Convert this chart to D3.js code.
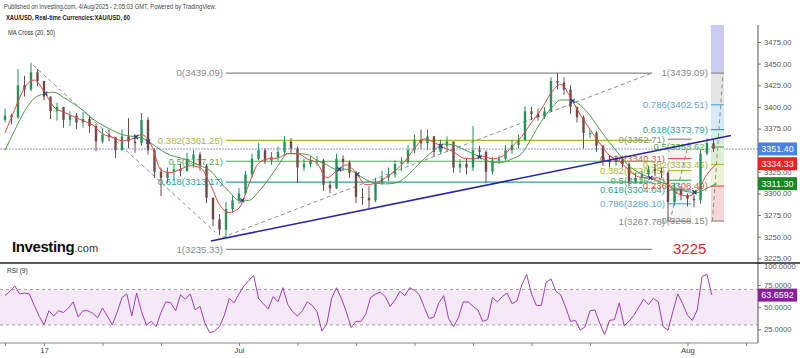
<!DOCTYPE html>
<html><head><meta charset="utf-8">
<script src="https://cdn.jsdelivr.net/npm/d3@7/dist/d3.min.js"></script>
<style>body{margin:0;background:#fff}svg{display:block;font-family:"Liberation Sans",Arial,sans-serif}</style>
</head><body><svg id="c" width="800" height="358"></svg>
<script>
// ---- data (candles: 3 per trading day, starting Fri 13 Jun) ----
const firstOpen = 3385;
const closes = [3390,3388,3425,3420,3440,3430,3412,3395,3400,3385,3390,3382,3386,3378,3360,3368,3365,3350,3366,3360,3358,3385,3350,3325,3318,3325,3328,3326,3340,3345,3332,3295,3270,3258,3282,3292,3300,3322,3340,3350,3338,3342,3348,3360,3352,3330,3334,3338,3338,3310,3306,3340,3336,3324,3296,3295,3292,3312,3318,3322,3334,3336,3350,3362,3358,3366,3348,3355,3360,3330,3334,3330,3350,3348,3325,3338,3340,3350,3356,3362,3395,3392,3388,3395,3430,3428,3420,3400,3388,3370,3370,3355,3338,3336,3340,3334,3314,3318,3322,3328,3326,3324,3290,3305,3298,3294,3292,3346,3358,3351.40];
const highs = [3398,3392,3444,3436,3451,3444,3430,3412,3405,3400,3395,3393,3394,3390,3380,3375,3374,3365,3374,3387,3368,3393,3388,3352,3330,3330,3334,3334,3347,3350,3348,3334,3295,3276,3290,3298,3306,3326,3346,3358,3352,3348,3354,3366,3364,3354,3340,3343,3343,3340,3314,3346,3344,3338,3326,3306,3308,3318,3326,3330,3338,3342,3356,3368,3374,3374,3366,3362,3366,3360,3340,3340,3378,3355,3350,3342,3344,3356,3362,3368,3401,3400,3398,3400,3434,3439,3434,3425,3400,3390,3374,3372,3356,3344,3344,3342,3336,3324,3326,3332,3334,3330,3326,3312,3308,3300,3298,3350,3364,3362];
const lows = [3382,3380,3386,3412,3418,3424,3408,3386,3384,3376,3378,3374,3376,3370,3349,3358,3360,3341,3350,3352,3347,3355,3345,3318,3297,3312,3315,3320,3325,3330,3326,3289,3262,3252,3248,3278,3288,3298,3318,3338,3334,3333,3338,3344,3346,3312,3326,3330,3332,3303,3300,3305,3326,3318,3289,3287,3283,3290,3310,3314,3318,3326,3334,3346,3352,3350,3343,3346,3348,3324,3324,3322,3326,3343,3312,3322,3334,3338,3346,3352,3360,3385,3384,3386,3394,3420,3414,3392,3382,3352,3364,3348,3332,3330,3332,3330,3308,3312,3313,3320,3320,3318,3268,3286,3292,3285,3284,3288,3344,3348];
// moving averages, 2 samples per day
const ma20 = [3370,3397,3422,3431,3418,3400,3394,3389,3384,3379,3369,3365,3361,3363,3368,3356,3327,3324,3328,3332,3330,3312,3287,3278,3283,3310,3335,3340,3341,3346,3346,3340,3335,3318,3326,3333,3324,3310,3312,3318,3326,3337,3352,3363,3359,3353,3348,3341,3340,3343,3340,3343,3354,3366,3382,3397,3416,3426,3411,3391,3374,3358,3344,3337,3327,3319,3318,3318,3310,3300,3297,3303,3322,3334.33];
const ma50 = [3350,3373,3395,3410,3415,3417,3411,3404,3396,3386,3379,3373,3368,3366,3364,3358,3350,3344,3341,3337,3332,3327,3314,3302,3292,3292,3302,3316,3332,3346,3346,3345,3338,3333,3328,3328,3323,3316,3312,3311,3312,3318,3329,3340,3350,3357,3356,3351,3346,3340,3336,3336,3340,3346,3364,3383,3398,3408,3408,3402,3390,3374,3359,3345,3332,3324,3319,3314,3310,3305,3302,3301,3306,3311.30];
// RSI(9), 4 samples per day
const rsi = [63,68,74,65,66,65,52,40,30,46,40,46,44,49,56,39,46,46,43,38,49,40,30,44,61,65,40,66,45,30,34,28,44,56,55,46,64,59,65,47,51,32,21,23,28,41,60,55,65,74,80,86,60,54,48,62,56,72,53,45,40,46,56,52,45,23,31,60,72,60,45,27,34,34,42,61,65,67,62,51,58,68,63,72,69,64,50,37,39,55,63,37,28,38,56,56,51,47,34,36,61,56,62,66,54,57,75,87,65,52,52,78,82,68,64,50,34,35,24,28,46,47,32,19,35,36,55,29,34,41,50,59,53,60,56,28,24,45,65,54,41,35,47,85,87,63.6592];
const lastPrice = 3351.40;
const priceTicks = [3475,3450,3425,3400,3375,3325,3300,3275,3250,3225];
const rsiTicks = [100,75,50,25];
const xTickDays = [0,2,5,8,12,15,18,21,24,27,30,35,38];
const xTickLabels = {2:"17",12:"Jul",35:"Aug"};
// drawings: fib retracements [startDay, endDay, price at 0, price at 1, levels]
const fibMain = {d0:11.33, d1:33.18, p0:3439.09, p1:3235.33, levels:[0,0.382,0.5,0.618,1]};
const fibA = {d0:36.2, d1:36.87, p0:3268.15, p1:3439.09, levels:[0,0.236,0.382,0.5,0.618,0.786,1,1.618]};
const fibB = {d0:34.0, d1:35.2, p0:3362.71, p1:3267.78, levels:[0,0.236,0.382,0.5,0.618,0.786,1]};
const trendLine = [[10.56,3245],[37.23,3367]];
const dashLines = [[[1.44,3448.4],[10.77,3255.4]], [[11.13,3249],[33.18,3439.09]], [[36.28,3268.15],[36.82,3439.09]], [[34.1,3267.78],[35.1,3362.71]]];

const levelColor = {0:"#8a8a8a",0.236:"#e05a4f",0.382:"#a9b93a",0.5:"#4caf50",0.618:"#26a69a",0.786:"#5aaad6",1:"#8a8a8a",1.618:"#6f74d8"};
const bandColor = {0:"#f6d6d6",0.236:"#eef2d6",0.382:"#dcefd6",0.5:"#d6f0e6",0.618:"#d6ebf7",0.786:"#e4e4e4",1:"#c9cbf2"};

const svg = d3.select("#c");
const X = d3.scaleLinear().domain([0,36]).range([5,707]);
const Y = d3.scaleLinear().domain([3250,3475]).range([236.7,42.0]);
const YR = d3.scaleLinear().domain([25,100]).range([329.3,263]);
const AX = 758;

svg.append("defs").html('<clipPath id="mp"><rect x="0" y="25" width="758" height="238"/></clipPath><clipPath id="rp"><rect x="0" y="263" width="758" height="80"/></clipPath>');

// header
svg.append("text").attr("x",4).attr("y",9).attr("font-size",6.5).attr("fill","#444").attr("textLength",212).attr("lengthAdjust","spacingAndGlyphs").text("Published on Investing.com, 4/Aug/2025 - 2:05:03 GMT, Powered by TradingView.");
svg.append("text").attr("x",6).attr("y",20).attr("font-size",6.8).attr("font-weight","bold").attr("fill","#222").attr("textLength",124).attr("lengthAdjust","spacingAndGlyphs").text("XAU/USD, Real-time Currencies:XAU/USD, 60");
svg.append("text").attr("x",8).attr("y",35).attr("font-size",6.5).attr("fill","#333").attr("textLength",47).attr("lengthAdjust","spacingAndGlyphs").text("MA Cross (20, 50)");

const main = svg.append("g").attr("clip-path","url(#mp)");

// current price line
main.append("line").attr("x1",0).attr("x2",AX).attr("y1",Y(lastPrice)).attr("y2",Y(lastPrice)).attr("stroke","#8f9bd0").attr("stroke-width",1).attr("stroke-dasharray","2,1");

// fib drawing helper
function drawFib(f, opt){
  const g = main.append("g");
  const lp = l => f.p0 + l*(f.p1-f.p0);
  if(opt.bands){
    const ls = f.levels.slice().sort((a,b)=>a-b);
    for(let i=0;i<ls.length-1;i++){
      const a=lp(ls[i]), b=lp(ls[i+1]);
      g.append("rect").attr("x",X(f.d0)).attr("width",X(f.d1)-X(f.d0))
        .attr("y",Math.min(Y(a),Y(b))).attr("height",Math.abs(Y(a)-Y(b)))
        .attr("fill",bandColor[ls[i]]).attr("opacity",opt.bandOpacity);
    }
  }
  f.levels.forEach(l=>{
    const p = lp(l);
    g.append("line").attr("x1",X(f.d0)).attr("x2",X(f.d1)).attr("y1",Y(p)).attr("y2",Y(p))
      .attr("stroke",levelColor[l]).attr("stroke-width",1.2);
    if(Y(p)>30) g.append("text").attr("x",X(f.d0)-3).attr("y",Y(p)).attr("dy","0.35em")
      .attr("text-anchor","end").attr("font-size",9.6).attr("fill",levelColor[l])
      .text(`${l}(${p.toFixed(2)})`);
  });
}
drawFib(fibMain,{bands:false});
drawFib(fibB,{bands:true,bandOpacity:0.35});
drawFib(fibA,{bands:true,bandOpacity:1});

// dashed diagonals
const lineGen = d3.line().x(d=>X(d[0])).y(d=>Y(d[1]));
dashLines.forEach(dl=>main.append("path").attr("d",lineGen(dl)).attr("fill","none").attr("stroke","#8e8e8e").attr("stroke-width",1).attr("stroke-dasharray","4,3"));

// candles
const candles = closes.map((c,i)=>({d:i/3,o:i?closes[i-1]:firstOpen,c,h:highs[i],l:lows[i]}));
const cg = main.append("g");
candles.forEach(k=>{
  const col = k.c>=k.o ? "#24935a" : "#6e4a46";
  cg.append("line").attr("x1",X(k.d)).attr("x2",X(k.d)).attr("y1",Y(Math.max(k.h,k.o,k.c))).attr("y2",Y(Math.min(k.l,k.o,k.c))).attr("stroke",col).attr("stroke-width",1);
  const top = Y(Math.max(k.o,k.c)), bot = Y(Math.min(k.o,k.c));
  cg.append("rect").attr("x",X(k.d)-1.2).attr("width",2.4).attr("y",top).attr("height",Math.max(1,bot-top)).attr("fill",col);
});

// MAs
const maLine = d3.line().x((d,i)=>X(i/2)).y(d=>Y(d)).curve(d3.curveMonotoneX);
main.append("path").attr("d",maLine(ma50)).attr("fill","none").attr("stroke","#4f9a45").attr("stroke-width",1);
main.append("path").attr("d",maLine(ma20)).attr("fill","none").attr("stroke","#e4453d").attr("stroke-width",1);
// crossing markers
for(let i=1;i<ma20.length;i++){
  const a=ma20[i-1]-ma50[i-1], b=ma20[i]-ma50[i];
  if(a*b<0){
    const t=a/(a-b), d=(i-1+t)/2, v=ma20[i-1]+t*(ma20[i]-ma20[i-1]);
    const cx=X(d), cy=Y(v);
    main.append("path").attr("d",`M${cx-2},${cy-2}L${cx+2},${cy+2}M${cx-2},${cy+2}L${cx+2},${cy-2}`).attr("stroke","#2b3a8c").attr("stroke-width",1.3);
  }
}

// trend line
main.append("path").attr("d",lineGen(trendLine)).attr("stroke","#2626a6").attr("stroke-width",1.6).attr("fill","none");

// logo and 3225 text
const logo = svg.append("text").attr("x",12).attr("y",252).attr("fill","#111");
logo.append("tspan").attr("font-size",15).attr("font-weight","bold").attr("letter-spacing",-0.4).text("Investing");
logo.append("tspan").attr("font-size",11).attr("fill","#333").text(".com");
svg.append("text").attr("x",673).attr("y",254).attr("font-size",15).attr("fill","#e3242b").text("3225");

// price axis
const pa = svg.append("g").attr("transform",`translate(${AX},0)`).call(d3.axisRight(Y).tickValues(priceTicks).tickFormat(d3.format(".2f")).tickSize(3));
pa.select(".domain").remove();
pa.selectAll("text").attr("font-size",7.6).attr("fill","#555").attr("font-family","Liberation Sans, Arial");
pa.selectAll("line").attr("stroke","#777");

// RSI pane
const rp = svg.append("g").attr("clip-path","url(#rp)");
rp.append("rect").attr("x",0).attr("width",AX).attr("y",YR(70)).attr("height",YR(30)-YR(70)).attr("fill","#9c27b0").attr("opacity",0.1);
[70,30].forEach(v=>rp.append("line").attr("x1",0).attr("x2",AX).attr("y1",YR(v)).attr("y2",YR(v)).attr("stroke","#a0a0a0").attr("stroke-dasharray","3,3"));
rp.append("path").attr("d",d3.line().x((d,i)=>X(i/4)).y(d=>YR(d))(rsi)).attr("fill","none").attr("stroke","#a43db5").attr("stroke-width",1);
svg.append("text").attr("x",7).attr("y",273).attr("font-size",6.5).attr("fill","#333").text("RSI (9)");
const ra = svg.append("g").attr("transform",`translate(${AX},0)`).call(d3.axisRight(YR).tickValues(rsiTicks).tickFormat(d3.format(".4f")).tickSize(3));
ra.select(".domain").remove();
ra.selectAll("text").attr("font-size",7.6).attr("fill","#555");
ra.selectAll("line").attr("stroke","#777");
ra.selectAll(".tick").filter(d=>d===100).select("text").attr("dy","0.7em");

// frame lines
svg.append("line").attr("x1",AX).attr("x2",AX).attr("y1",25).attr("y2",343).attr("stroke","#555").attr("stroke-width",1);
svg.append("line").attr("x1",0).attr("x2",800).attr("y1",263).attr("y2",263).attr("stroke","#222").attr("stroke-width",1.5);
// x axis
const xa = svg.append("g").attr("transform","translate(0,343)").call(d3.axisBottom(X).tickValues(xTickDays).tickSize(3).tickFormat(d=>xTickLabels[d]||""));
xa.select(".domain").attr("d",`M0,0H${AX}`).attr("stroke","#888");
xa.selectAll("line").attr("stroke","#888");
xa.selectAll("text").attr("font-size",7.8).attr("fill","#444").attr("dy","0.5em");

// value boxes on axis
function box(yv, label, fill){
  svg.append("rect").attr("x",AX).attr("y",yv-6.5).attr("width",39).attr("height",13).attr("fill",fill);
  svg.append("text").attr("x",AX+19.5).attr("y",yv).attr("dy","0.35em").attr("text-anchor","middle").attr("font-size",9).attr("fill","#fff").text(label);
}
box(Y(lastPrice), lastPrice.toFixed(2), "#4f7fe0");
box(Y(ma20[ma20.length-1]), ma20[ma20.length-1].toFixed(2), "#ec2222");
box(Y(ma50[ma50.length-1]), ma50[ma50.length-1].toFixed(2), "#168a1e");
box(YR(rsi[rsi.length-1]), rsi[rsi.length-1].toFixed(4), "#8a1f9e");
</script></body></html>
